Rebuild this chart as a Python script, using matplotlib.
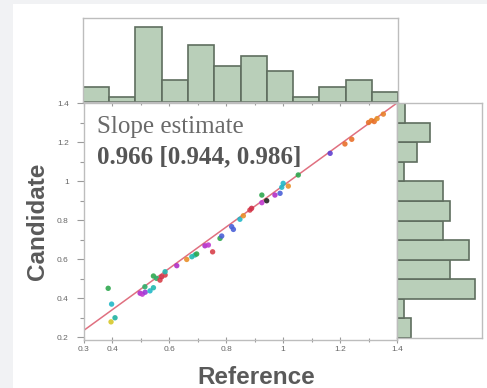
import matplotlib
matplotlib.use("Agg")
import matplotlib.pyplot as plt
from matplotlib.patches import Rectangle
from matplotlib.ticker import MultipleLocator, FuncFormatter
import numpy as np

plt.rcParams['font.family'] = ['Liberation Sans', 'DejaVu Sans']

# ---- data ----
ref_x = [0.385, 0.397, 0.395, 0.409, 0.497, 0.505, 0.515, 0.514, 0.532, 0.544,
         0.544, 0.555, 0.567, 0.573, 0.585, 0.585, 0.626, 0.661, 0.679, 0.690,
         0.696, 0.725, 0.737, 0.752, 0.778, 0.784, 0.825, 0.819, 0.848, 0.860,
         0.883, 0.889, 0.925, 0.925, 0.942, 0.971, 0.989, 0.995, 1.000, 1.018,
         1.053, 1.165, 1.217, 1.241, 1.300, 1.310, 1.320, 1.330, 1.352]
cand_y = [0.450, 0.369, 0.278, 0.299, 0.425, 0.420, 0.430, 0.458, 0.437, 0.453,
          0.513, 0.501, 0.492, 0.509, 0.518, 0.535, 0.566, 0.598, 0.612, 0.621,
          0.626, 0.668, 0.672, 0.637, 0.706, 0.718, 0.752, 0.766, 0.804, 0.822,
          0.851, 0.860, 0.928, 0.889, 0.899, 0.928, 0.937, 0.968, 0.988, 0.974,
          1.031, 1.142, 1.190, 1.214, 1.300, 1.310, 1.305, 1.320, 1.343]
point_colors = ["#2fa84f", "#22b8c8", "#d6c82a", "#20b2a0", "#b030c8", "#c03ad0", "#9a3ad8",
                "#2fb06a", "#22b8c8", "#22b8b0", "#2fa84f", "#2fb06a", "#d8404a", "#d0304a",
                "#d8404a", "#22b8b0", "#b030c8", "#e8902a", "#22b8b0", "#22b8b0", "#2fa84f",
                "#b030c8", "#c03ad0", "#d8404a", "#2fa84f", "#4a60d8", "#4a60d8", "#4a60d8",
                "#22b8c8", "#e8902a", "#d8404a", "#d0304a", "#2fa84f", "#c03ad0", "#222222",
                "#b030c8", "#4a60d8", "#22b8c8", "#22b8c8", "#e8902a", "#2fa84f", "#6040d0",
                "#e8702a", "#e8702a", "#e8702a", "#e8802a", "#e8702a", "#e8902a", "#e8802a"]

fit_x = [0.3, 1.4]
fit_y = [0.235, 1.40]

top_bin_edges = list(np.round(np.linspace(0.3, 1.4, 13), 4))
top_counts = [3, 1, 15, 4.3, 11.3, 7.2, 9.1, 6.1, 1, 3, 4.3, 2]

right_bin_edges = [0.2, 0.3, 0.4, 0.5, 0.6, 0.7, 0.8, 0.9, 1.0, 1.1, 1.2, 1.3, 1.4]
right_counts = [2.2, 1.1, 11.8, 8.1, 11.0, 7.0, 8.1, 7.0, 1.1, 3.0, 5.0, 1.2]

x_ticks = [0.3, 0.4, 0.6, 0.8, 1.0, 1.2, 1.4]
y_ticks = [0.2, 0.4, 0.6, 0.8, 1.0, 1.2, 1.4]

# ---- figure ----
W, H = 487, 388
fig = plt.figure(figsize=(W / 100, H / 100), dpi=100)
fig.patch.set_facecolor("#f1f2f4")
fig.patches.append(Rectangle((13 / W, 0), 1 - 13 / W, 1 - 4 / H, transform=fig.transFigure,
                             facecolor="white", edgecolor="none", zorder=-10))

def fx(px):
    return px / W

def fy(py):
    return 1 - py / H

main_l, main_r, main_t, main_b = 84, 397, 103, 340
ax = fig.add_axes([fx(main_l), fy(main_b), fx(main_r - main_l), (main_b - main_t) / H])
axt = fig.add_axes([fx(83), fy(102), fx(398 - 83), (102 - 18) / H])
axr = fig.add_axes([fx(397), fy(338), fx(482 - 397), (338 - 103) / H])

spine_col = "#bdbdbd"
tick_col = "#9a9a9a"
lab_col = "#666666"

fmt = FuncFormatter(lambda v, p: ("%g" % round(v, 2)))

# main scatter
ax.scatter(ref_x, cand_y, s=15, c=point_colors, edgecolors="none", zorder=3, alpha=0.9)
ax.plot(fit_x, fit_y, color="#e07080", lw=1.1, zorder=2)
ax.set_xlim(0.3, 1.4)
ax.set_ylim(0.185, 1.4)
ax.set_xticks(x_ticks)
ax.set_yticks(y_ticks)
ax.xaxis.set_major_formatter(fmt)
ax.yaxis.set_major_formatter(fmt)
ax.xaxis.set_minor_locator(MultipleLocator(0.1))
ax.yaxis.set_minor_locator(MultipleLocator(0.1))
ax.tick_params(axis="both", which="major", direction="out", length=5, width=0.8,
               color=tick_col, labelsize=6, labelcolor=lab_col)
ax.tick_params(axis="y", which="major", pad=6)
ax.tick_params(axis="both", which="minor", direction="out", length=3, width=0.8, color=tick_col)
ax.tick_params(axis="x", which="both", top=True, direction="inout")
ax.tick_params(axis="x", which="major", pad=2)
for s in ax.spines.values():
    s.set_color(spine_col)
    s.set_linewidth(1.0)
ax.set_xlabel("Reference", fontsize=17.5, fontweight="bold", color="#5a5a5a")
ax.xaxis.set_label_coords((256 - main_l) / (main_r - main_l), (main_b - 366) / (main_b - main_t))
ax.set_ylabel("Candidate", fontsize=17.5, fontweight="bold", color="#5a5a5a", labelpad=6)

ax.text(0.0415, 0.873, "Slope estimate", transform=ax.transAxes, family="Liberation Serif",
        fontsize=18, color="#6a6a6a", va="baseline", ha="left")
ax.text(0.0415, 0.747, "0.966 [0.944, 0.986]", transform=ax.transAxes, family="Liberation Serif",
        fontsize=18, fontweight="bold", color="#555555", va="baseline", ha="left")

# top histogram
bar_face = "#b9cfb9"
bar_edge = "#5f6e5f"
axt.hist(top_bin_edges[:-1], bins=top_bin_edges, weights=top_counts,
         facecolor=bar_face, edgecolor=bar_edge, linewidth=1.2)
axt.set_xlim(0.3, 1.4)
axt.set_ylim(0, 16.7)
axt.set_xticks([])
axt.set_yticks([])
for s in axt.spines.values():
    s.set_color(spine_col)
    s.set_linewidth(1.0)

# right histogram
axr.hist(right_bin_edges[:-1], bins=right_bin_edges, weights=right_counts,
         orientation="horizontal", facecolor=bar_face, edgecolor=bar_edge, linewidth=1.2)
axr.set_ylim(0.2, 1.4)
axr.set_xlim(0, 12.9)
axr.set_xticks([])
axr.set_yticks([])
for s in axr.spines.values():
    s.set_color(spine_col)
    s.set_linewidth(1.0)

fig.savefig("out.png", dpi=100)
